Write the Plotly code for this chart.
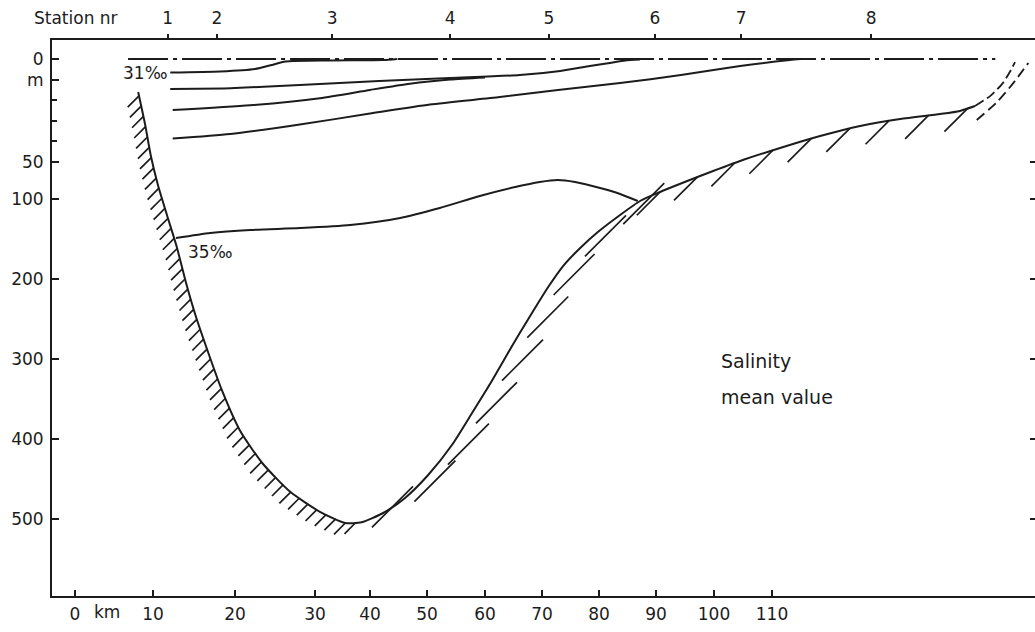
import numpy as np
import plotly.graph_objects as go

# ---------------- scale calibration of the (non-uniform) original drawing -------------
KM_NODES = [-3, 0, 10, 20, 30, 40, 50, 60, 70, 80, 90, 100, 110, 160]
KM_POS = [52, 75, 153, 235, 315, 370, 427, 485, 542, 599, 656, 714, 772, 1062]
DEPTH_NODES = [-10, 0, 50, 100, 500, 600]
DEPTH_POS = [39, 59, 162, 199, 519, 599]


def X(km):
    return np.interp(km, KM_NODES, KM_POS)


def Y(d):
    return np.interp(d, DEPTH_NODES, DEPTH_POS)


# ---------------- tick labels ----------------
X_TICKS = [0, 10, 20, 30, 40, 50, 60, 70, 80, 90, 100, 110]
X_TICK_TEXT = ["0", "10", "20", "30", "40", "50", "60", "70", "80", "90", "100", "110"]
Y_TICKS = [0, 10, 50, 100, 200, 300, 400, 500]
Y_TICK_TEXT = ["0", "m", "50", "100", "200", "300", "400", "500"]
Y_MINOR = [20, 30, 40]
RIGHT_TICKS = [50, 100, 200, 300, 400, 500]

STATION_KM = [11.8, 17.8, 33.1, 54.0, 71.2, 89.8, 104.7, 127.1]
STATION_LABELS = ["1", "2", "3", "4", "5", "6", "7", "8"]

# ---------------- data (km, depth m) ----------------
SURFACE_KM = [6.8, 148.5]
SURFACE_DEPTH = [0, 0]

ISO31_KM = [12.1, 18.2, 22.5, 24.6, 26.3, 32.7, 42.3, 44.8]
ISO31_DEPTH = [6.6, 6.1, 4.9, 2.9, 1.2, 0.7, 0.5, 0.0]

ISO_B_KM = [12.1, 18.6, 20.0, 28.1, 41.6, 54.0, 66.1, 73.2, 78.4, 81.9, 84.6, 87.2]
ISO_B_DEPTH = [14.6, 14.3, 14.1, 12.6, 10.7, 9.2, 7.8, 5.8, 3.4, 1.9, 0.7, 0.2]

ISO_C_KM = [12.4, 21.9, 30.9, 40.0, 47.0, 54.0, 60.0]
ISO_C_DEPTH = [24.8, 22.5, 19.0, 15.0, 12.0, 10.0, 9.0]

ISO_D_KM = [12.4, 19.4, 28.1, 40.0, 50.5, 62.6, 72.8, 83.7, 94.3, 104.5, 113.1, 115.0]
ISO_D_DEPTH = [38.6, 36.4, 31.8, 26.5, 22.1, 18.5, 15.0, 11.7, 7.8, 3.4, 0.5, 0.0]

ISO35_KM = [12.8, 17.0, 21.9, 28.1, 36.4, 45.3, 52.2, 59.1, 65.3, 69.6, 72.8, 75.8, 80.2, 83.7, 86.8]
ISO35_DEPTH = [148.8, 142.5, 138.8, 136.3, 132.5, 123.8, 111.3, 95.9, 83.8, 77.0, 74.3, 77.0, 85.1, 93.2, 102.5]

BOTTOM_KM = [8.1, 9.0, 9.7, 10.6, 11.7, 12.9, 14.0, 15.2, 16.7, 18.4, 20.6, 23.4, 26.9, 30.9,
             35.5, 38.5, 42.3, 46.1, 50.2, 54.3, 57.9, 60.9, 63.5, 66.1, 68.8, 71.2, 73.7, 76.7,
             79.8, 83.7, 87.2, 90.7, 97.6, 104.5, 111.4, 118.3, 125.2, 132.1, 139.0, 142.4, 145.0]
BOTTOM_DEPTH = [16.0, 32.0, 46.6, 81.0, 120.0, 160.0, 203.8, 246.0, 291.0, 339.0, 389.0, 430.0,
                466.0, 491.0, 505.0, 504.0, 492.5, 474.0, 445.0, 407.5, 366.0, 331.0, 299.0,
                267.5, 236.0, 208.8, 183.8, 161.3, 141.3, 120.0, 102.5, 90.5, 68.9, 49.5, 43.2,
                37.4, 32.5, 29.1, 26.7, 25.2, 22.8]

COAST_KM = [145.0, 147.6, 149.8, 151.0, 151.9]
COAST_DEPTH = [22.8, 18.0, 11.7, 6.3, 1.5]
COAST2_KM = [145.3, 148.8, 151.6, 154.2]
COAST2_DEPTH = [29.6, 20.9, 11.7, 1.9]

# ---------------- styling ----------------
INK = "#1c1c1c"
FONT = "DejaVu Sans"

fig = go.Figure()


def line(km, dep, width=2.0, dash="solid"):
    fig.add_trace(go.Scatter(x=X(km), y=Y(dep), mode="lines",
                             line=dict(color=INK, width=width, dash=dash, shape="spline",
                                       smoothing=0.6),
                             hoverinfo="skip", showlegend=False))


line(SURFACE_KM, SURFACE_DEPTH, 1.8, "40px,5px,4px,5px")
line(ISO31_KM, ISO31_DEPTH)
line(ISO_B_KM, ISO_B_DEPTH)
line(ISO_C_KM, ISO_C_DEPTH)
line(ISO_D_KM, ISO_D_DEPTH)
line(ISO35_KM, ISO35_DEPTH)
line(BOTTOM_KM, BOTTOM_DEPTH, 2.0)
line(COAST_KM, COAST_DEPTH, 1.8, "10px,4px")
line(COAST2_KM, COAST2_DEPTH, 1.8, "10px,5px")

# ---------------- hatching of the sea floor (derived from the bottom profile) ----------
bx, by = X(BOTTOM_KM), Y(BOTTOM_DEPTH)
seg = np.hypot(np.diff(bx), np.diff(by))
s = np.concatenate([[0], np.cumsum(seg)])
# (x from, x to, spacing, length, direction, offset)
HATCH = [(120, 362, 10.5, 16, (-1, 1), (0, 0)),
         (362, 632, 50, 58, (1, -1), (6, 7)),
         (632, 980, 40, 33, (-1, 1), (0, 0))]
hx, hy = [], []
t = 4.0
while t < s[-1]:
    px, py = np.interp(t, s, bx), np.interp(t, s, by)
    step = 10
    for x0, x1, sp, ln, d, off in HATCH:
        if x0 <= px < x1:
            u = np.array(d) / np.sqrt(2)
            sx, sy = px + off[0], py + off[1]
            hx += [sx, sx + u[0] * ln, None]
            hy += [sy, sy + u[1] * ln, None]
            step = sp
            break
    t += step
fig.add_trace(go.Scatter(x=hx, y=hy, mode="lines", line=dict(color=INK, width=1.7),
                         hoverinfo="skip", showlegend=False))

# dummy traces to activate the secondary axes
fig.add_trace(go.Scatter(x=[X(0)], y=[Y(0)], xaxis="x2", mode="markers",
                         marker=dict(opacity=0), hoverinfo="skip", showlegend=False))
fig.add_trace(go.Scatter(x=[X(0)], y=[Y(0)], yaxis="y2", mode="markers",
                         marker=dict(opacity=0), hoverinfo="skip", showlegend=False))

XR = [52, 1035]
YR = [596, 40]
tickfont = dict(family=FONT, size=17, color=INK)

fig.update_layout(
    width=1035, height=632,
    margin=dict(l=52, r=0, t=40, b=36),
    paper_bgcolor="white", plot_bgcolor="white",
    showlegend=False,
    xaxis=dict(range=XR, showgrid=False, zeroline=False, showline=True, linecolor=INK,
               linewidth=2, ticks="inside", ticklen=6, tickwidth=1.5, tickcolor=INK,
               tickvals=list(X(X_TICKS)), ticktext=X_TICK_TEXT, tickfont=tickfont,
               ticklabelstandoff=2),
    xaxis2=dict(range=XR, overlaying="x", side="top", anchor="y", showgrid=False,
                zeroline=False, showline=True, linecolor=INK, linewidth=2,
                ticks="outside", ticklen=4, tickwidth=1.5, tickcolor=INK,
                tickvals=list(X(STATION_KM)), ticktext=STATION_LABELS, tickfont=tickfont,
                ticklabelstandoff=3),
    yaxis=dict(range=YR, showgrid=False, zeroline=False, showline=True, linecolor=INK,
               linewidth=2, ticks="inside", ticklen=7, tickwidth=1.5, tickcolor=INK,
               tickvals=list(Y(Y_TICKS)), ticktext=Y_TICK_TEXT, tickfont=tickfont,
               ticklabelstandoff=3,
               minor=dict(tickvals=list(Y(Y_MINOR)), ticks="inside", ticklen=5,
                          tickcolor=INK, tickwidth=1.5)),
    yaxis2=dict(range=YR, overlaying="y", side="right", anchor="x", showgrid=False,
                zeroline=False, showline=False, ticks="inside", ticklen=5, tickwidth=1.5,
                tickcolor=INK, tickvals=list(Y(RIGHT_TICKS)), showticklabels=False),
)

PLOT_W, PLOT_H = 983.0, 556.0
ann = dict(showarrow=False, font=dict(family=FONT, size=17, color=INK), yanchor="middle")
# texts outside the plotting area use paper coordinates
fig.add_annotation(x=(32 - 52) / PLOT_W, y=(596 - 18) / PLOT_H, xref="paper", yref="paper",
                   text="Station nr", xanchor="left", **ann)
fig.add_annotation(x=(92 - 52) / PLOT_W, y=(596 - 612) / PLOT_H, xref="paper", yref="paper",
                   text="km", xanchor="left", **ann)
fig.add_annotation(x=X(12.0), y=Y(7), xref="x", yref="y", text="31‰", xanchor="right", **ann)
fig.add_annotation(x=X(14.0), y=Y(166), xref="x", yref="y", text="35‰", xanchor="left", **ann)
big = dict(showarrow=False, font=dict(family=FONT, size=19, color=INK), yanchor="middle",
           xanchor="left", xref="x", yref="y")
fig.add_annotation(x=X(100.8), y=Y(303), text="Salinity", **big)
fig.add_annotation(x=X(100.8), y=Y(347), text="mean value", **big)

fig.write_html("out.html")
